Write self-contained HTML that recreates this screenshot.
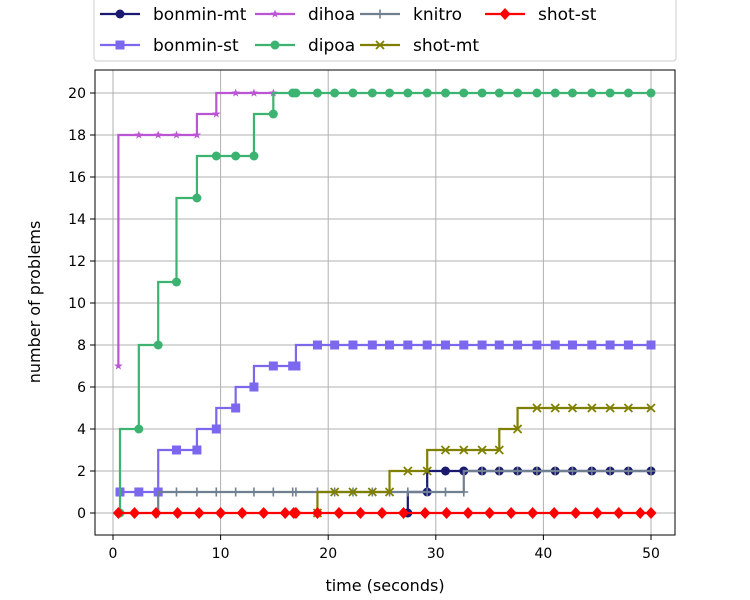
<!DOCTYPE html>
<html><head><meta charset="utf-8"><style>
body{margin:0;background:#fff;}
svg{display:block;font-family:"DejaVu Sans","Liberation Sans",sans-serif;}
</style></head><body>
<svg id="chart" width="750" height="600">
  <g id="grid"></g>
  <g id="series"></g>
  <rect x="95" y="70" width="580" height="465" fill="none" stroke="#000" stroke-width="1"/>
  <g id="ticks"></g>
  <text x="385" y="591" text-anchor="middle" font-size="16">time (seconds)</text>
  <text x="0" y="0" transform="translate(40,302) rotate(-90)" text-anchor="middle" font-size="16">number of problems</text>
  <g id="legend">
    <rect x="94" y="-6" width="582" height="67" rx="3" fill="#fff" stroke="#ccc" stroke-width="1"/>
  </g>
</svg>
<script>
const G = [0.65,2.4,4.2,5.9,7.8,9.6,11.4,13.1,14.9,16.7,17.0,19.0,20.6,22.3,24.1,25.7,27.4,29.2,30.9,32.6,34.3,35.9,37.6,39.4,41.1,42.7,44.5,46.2,47.9,50];
const bonminMtT = G.slice(16);
const bonminMtV = [0,1,2,2,2,2,2,2,2,2,2,2,2,2];
const bonminStT = G.slice(0);
const bonminStV = [1,1,1,3,3,4,5,6,7,7,7,8,8,8,8,8,8,8,8,8,8,8,8,8,8,8,8,8,8,8];
const dihoaT = [0.5,2.4,4.2,5.9,7.8,9.6,11.4,13.1,14.9];
const dihoaV = [7,18,18,18,18,19,20,20,20];
const dipoaT = G.slice(0);
const dipoaV = [0,4,8,11,15,17,17,17,19,20,20,20,20,20,20,20,20,20,20,20,20,20,20,20,20,20,20,20,20,20];
const knitroT = G.slice(2);
const knitroV = [0,1,1,1,1,1,1,1,1,1,1,1,1,1,1,1,1,1,2,2,2,2,2,2,2,2,2,2];
const shotMtT = G.slice(11);
const shotMtV = [0,1,1,1,1,2,2,3,3,3,3,4,5,5,5,5,5,5,5];
const shotStT = [0.5,2.0,4.0,6.0,8.0,10,12,14,16,16.8,17.0,19,21,23,25,27,29,31,33,35,37,39,41,43,45,47,49,50];
const shotStV = [0,0,0,0,0,0,0,0,0,0,0,0,0,0,0,0,0,0,0,0,0,0,0,0,0,0,0,0];
const xTicks = [0,10,20,30,40,50];
const yTicks = [0,2,4,6,8,10,12,14,16,18,20];

const NS='http://www.w3.org/2000/svg';
const X = t => 113 + t*10.76;
const Y = v => 513 - v*21;
function mk(tag, attrs, parent){const e=document.createElementNS(NS,tag);for(const k in attrs)e.setAttribute(k,attrs[k]);parent.appendChild(e);return e;}
const grid=document.getElementById('grid'), ticks=document.getElementById('ticks'), ser=document.getElementById('series'), leg=document.getElementById('legend');
xTicks.forEach(t=>{
  const l=mk('line',{x1:X(t),x2:X(t),y1:70,y2:535,stroke:'#b0b0b0','stroke-width':1},grid);
  
  
  mk('line',{x1:X(t),x2:X(t),y1:535,y2:540,stroke:'#000'},ticks);
  const tx=mk('text',{x:X(t),y:558,'text-anchor':'middle','font-size':14},ticks);
  tx.textContent=t;
  
  
});
yTicks.forEach(v=>{
  const l=mk('line',{x1:95,x2:675,y1:Y(v),y2:Y(v),stroke:'#b0b0b0','stroke-width':1},grid);
  
  
  mk('line',{x1:90,x2:95,y1:Y(v),y2:Y(v),stroke:'#000'},ticks);
  const tx=mk('text',{x:86,y:Y(v)+5,'text-anchor':'end','font-size':14},ticks);
  tx.textContent=v;
  
  
});
function marker(type,x,y,c,p){
  let e;
  if(type==='o') e=mk('circle',{cx:x,cy:y,r:4.5,fill:c},p);
  else if(type==='s') e=mk('rect',{x:x-4.5,y:y-4.5,width:9,height:9,fill:c},p);
  else if(type==='D') e=mk('polygon',{points:`${x},${y-6} ${x+5.5},${y} ${x},${y+6} ${x-5.5},${y}`,fill:c},p);
  else if(type==='*'){let pts=[];for(let i=0;i<10;i++){const r=i%2?1.8:4.5,a=-Math.PI/2+i*Math.PI/5;pts.push((x+r*Math.cos(a)).toFixed(1)+','+(y+r*Math.sin(a)).toFixed(1));}e=mk('polygon',{points:pts.join(' '),fill:c},p);}
  else if(type==='+') e=mk('path',{d:`M${x-4.5},${y}H${x+4.5}M${x},${y-4.5}V${y+4.5}`,stroke:c,'stroke-width':1.6},p);
  else if(type==='x') e=mk('path',{d:`M${x-4},${y-4}L${x+4},${y+4}M${x-4},${y+4}L${x+4},${y-4}`,stroke:c,'stroke-width':1.8},p);
  return e;
}
const S=[
  ['bonmin-mt',bonminMtT,bonminMtV,'#191970','o'],
  ['bonmin-st',bonminStT,bonminStV,'#7B68EE','s'],
  ['dihoa',dihoaT,dihoaV,'#BA55D3','*'],
  ['dipoa',dipoaT,dipoaV,'#3CB371','o'],
  ['knitro',knitroT,knitroV,'#708090','+'],
  ['shot-mt',shotMtT,shotMtV,'#808000','x'],
  ['shot-st',shotStT,shotStV,'#FF0000','D']
];
S.forEach(([name,T,V,c,m])=>{
  const g=mk('g',{},ser);
  
  
  let d=`M${X(T[0])},${Y(V[0])}`;
  for(let i=1;i<T.length;i++){d+=`V${Y(V[i])}H${X(T[i])}`;}
  mk('path',{d:d,fill:'none',stroke:c,'stroke-width':2.2},g);
  T.forEach((t,i)=>{const e=marker(m,X(t),Y(V[i]),c,g);
    
    });
});
const LP=[[100,14],[100,45],[255,14],[255,45],[360,14],[360,45],[485,14]];
S.forEach(([name,T,V,c,m],i)=>{
  const [lx,ly]=LP[i];
  const g=mk('g',{},leg);
  
  
  mk('line',{x1:lx,x2:lx+40,y1:ly,y2:ly,stroke:c,'stroke-width':2.2},g);
  marker(m,lx+20,ly,c,g);
  const tx=mk('text',{x:lx+53,y:ly+6,'font-size':17},g);
  tx.textContent=name;
});
</script>
</body></html>
